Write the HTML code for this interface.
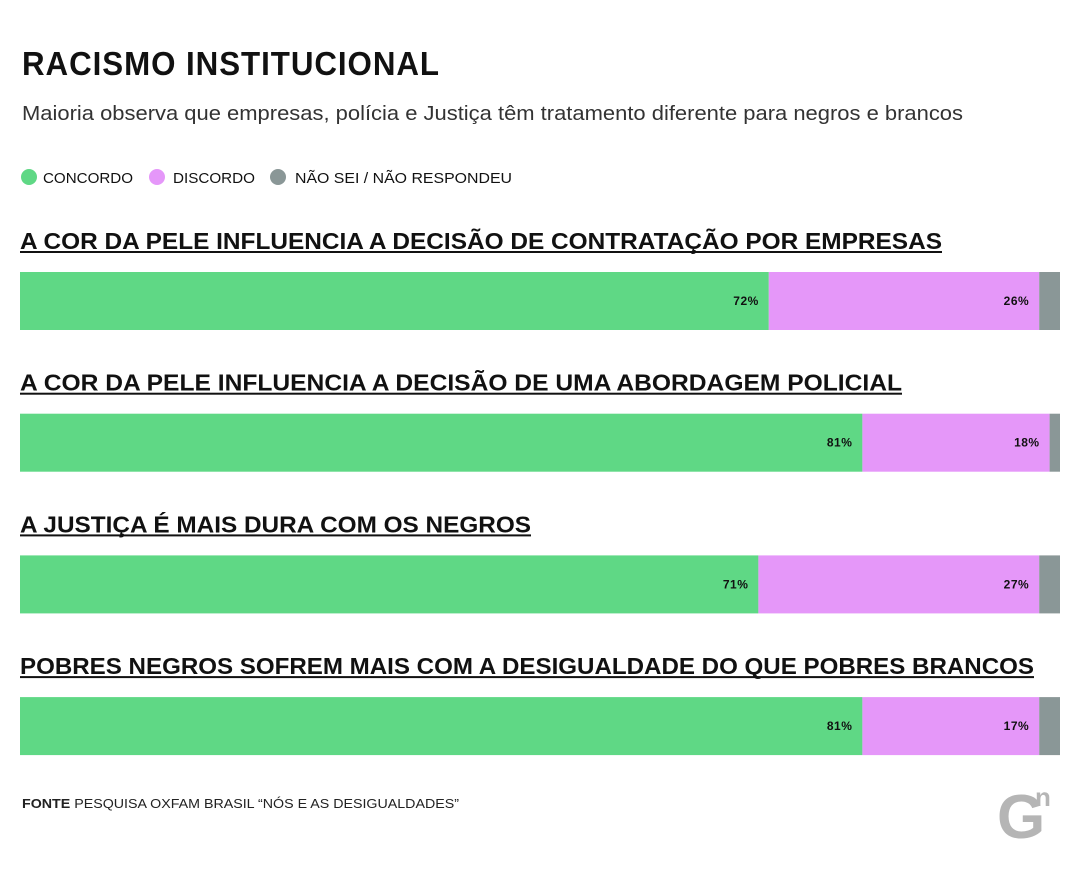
<!DOCTYPE html>
<html><head><meta charset="utf-8"><style>
body{margin:0;background:#fff}
svg{display:block;font-family:"Liberation Sans",sans-serif}
</style></head><body>
<svg id="c" width="1080" height="875" viewBox="0 0 1080 875">
<text x="22" y="75" font-size="33" font-weight="bold" fill="#111" letter-spacing="1" textLength="418" lengthAdjust="spacingAndGlyphs">RACISMO INSTITUCIONAL</text>
<text x="22" y="120" font-size="20" fill="#333" textLength="941" lengthAdjust="spacingAndGlyphs">Maioria observa que empresas, polícia e Justiça têm tratamento diferente para negros e brancos</text>
<g>
<circle cx="29" cy="177" r="8" fill="#5fd885"/>
<text x="43" y="183" font-size="15" fill="#111" textLength="90" lengthAdjust="spacingAndGlyphs">CONCORDO</text>
<circle cx="157" cy="177" r="8" fill="#e597f9"/>
<text x="173" y="183" font-size="15" fill="#111" textLength="82" lengthAdjust="spacingAndGlyphs">DISCORDO</text>
<circle cx="278" cy="177" r="8" fill="#8a9797"/>
<text x="295" y="183" font-size="15" fill="#111" textLength="217" lengthAdjust="spacingAndGlyphs">NÃO SEI / NÃO RESPONDEU</text>
</g>
<g id="bars"></g>
<text x="22" y="808" font-size="13" fill="#222" textLength="437" lengthAdjust="spacingAndGlyphs"><tspan font-weight="bold">FONTE</tspan> PESQUISA OXFAM BRASIL “NÓS E AS DESIGUALDADES”</text>
<g fill="#b5b5b5">
<text x="997" y="838" font-size="62" font-weight="bold" fill="#b5b5b5">G</text>
<text x="1035" y="806" font-size="26" font-weight="bold" fill="#b5b5b5">n</text>
</g>
</svg>
<script>
const questions=["A COR DA PELE INFLUENCIA A DECISÃO DE CONTRATAÇÃO POR EMPRESAS","A COR DA PELE INFLUENCIA A DECISÃO DE UMA ABORDAGEM POLICIAL","A JUSTIÇA É MAIS DURA COM OS NEGROS","POBRES NEGROS SOFREM MAIS COM A DESIGUALDADE DO QUE POBRES BRANCOS"];
const concordo=[72,81,71,81];
const discordo=[26,18,27,17];
const naoSei=[2,1,2,2];
const headingWidths=[922,882,511,1014];
const NS="http://www.w3.org/2000/svg";
const g=document.getElementById('bars');
const X0=20,W=1040;
const xs=v=>v/100*W;
function mk(t,a){const e=document.createElementNS(NS,t);for(const k in a)e.setAttribute(k,a[k]);return e;}
questions.forEach((q,i)=>{
  const top=272+i*141.7;
  const h=mk('text',{x:20,y:top-23,'font-size':23,'font-weight':'bold',fill:'#111',textLength:headingWidths[i],lengthAdjust:'spacingAndGlyphs'});
  h.textContent=q;
  
  
  g.appendChild(h);
  const u=mk('rect',{x:20,y:top-21,width:headingWidths[i],height:2,fill:'#111'});
  
  
  g.appendChild(u);
  const segs=[[concordo[i],'#5fd885','concordo'],[discordo[i],'#e597f9','discordo'],[naoSei[i],'#8a9797','nao-sei']];
  let acc=0;
  segs.forEach(([v,c,n],j)=>{
    const x=X0+xs(acc), w=(j===2)?(X0+W-x):xs(v);
    const r=mk('rect',{x:x,y:top,width:w,height:58,fill:c});
    
    
    g.appendChild(r);
    if(j<2){
      const t=mk('text',{x:x+w-10,y:top+33,'font-size':12,'font-weight':'bold',fill:'#111','text-anchor':'end','letter-spacing':'0.5'});
      t.textContent=v+'%';
      
      
      g.appendChild(t);
    }
    acc+=v;
  });
});
</script>
</body></html>
